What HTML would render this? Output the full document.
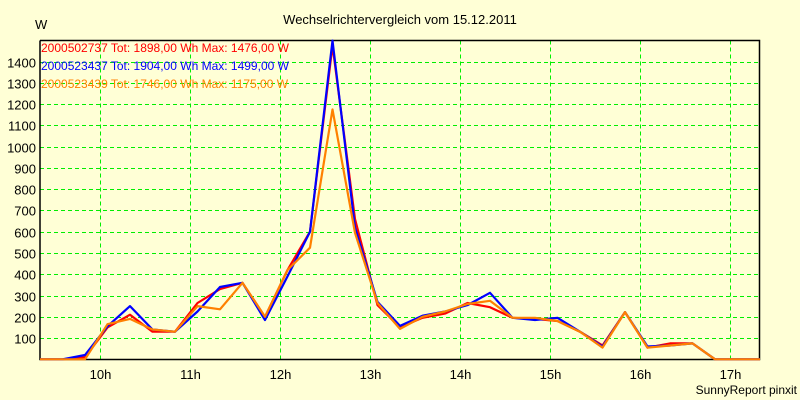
<!DOCTYPE html>
<html><head><meta charset="utf-8"><style>
body{margin:0;background:#ffffd6;}
svg{display:block;font-family:"Liberation Sans",sans-serif;}
</style></head><body>
<svg id="c" width="800" height="400">
<rect x="0" y="0" width="800" height="400" fill="#ffffd6"/>
<text x="400" y="24" font-size="13" text-anchor="middle">Wechselrichtervergleich vom 15.12.2011</text>
<text x="35" y="29" font-size="13">W</text>
<text x="797" y="394" font-size="12" text-anchor="end">SunnyReport pinxit</text>
<g id="grid"></g><g id="axes"></g><g id="series"></g>
<g font-size="12">
<text x="41" y="52" fill="#ff0000">2000502737  Tot: 1898,00 Wh  Max: 1476,00 W</text>
<text x="41" y="70" fill="#0000ff">2000523437  Tot: 1904,00 Wh  Max: 1499,00 W</text>
<text x="41" y="88" fill="#ff8000">2000523439  Tot: 1746,00 Wh  Max: 1175,00 W</text>
</g>
</svg>
<script>
const yTicks=[100,200,300,400,500,600,700,800,900,1000,1100,1200,1300,1400];
const xHours=[10,11,12,13,14,15,16,17];
const startHour=9+20/60, stepHour=0.25;
const red=[0,0,10,150,210,130,130,265,330,360,200,420,600,1476,660,255,150,195,215,265,245,195,190,180,130,65,222,55,75,75,0,0,0];
const blue=[0,0,20,155,250,140,130,225,340,360,185,390,600,1499,620,270,157,205,225,255,313,195,185,195,130,60,222,60,65,75,0,0,0];
const orange=[0,0,0,165,190,140,130,250,235,360,200,420,525,1175,595,265,143,200,225,260,275,195,195,180,130,55,222,55,65,75,0,0,0];
const L=40,R=759.5,T=40.5,B=359.5;
const xS=h=>100+(h-10)*90.0;
const yS=v=>359.3-v*0.2126;
const NS='http://www.w3.org/2000/svg';
function mk(t,a,p){const e=document.createElementNS(NS,t);for(const k in a)e.setAttribute(k,a[k]);p.appendChild(e);return e;}
const grid=document.getElementById('grid'),axes=document.getElementById('axes'),ser=document.getElementById('series');
yTicks.forEach(v=>{const y=Math.round(yS(v))+0.5;
const g=mk('line',{x1:L,x2:R,y1:y,y2:y,stroke:'#00ee00','stroke-dasharray':'4,3'},grid);


const t=mk('text',{x:36,y:y+5,'font-size':13,'text-anchor':'end'},axes);t.textContent=v;

});
xHours.forEach(h=>{const x=Math.round(xS(h))+0.5;
const g=mk('line',{x1:x,x2:x,y1:T,y2:B,stroke:'#00ee00','stroke-dasharray':'4,3'},grid);


const t=mk('text',{x:x,y:379,'font-size':13,'text-anchor':'middle'},axes);t.textContent=h+'h';

});
const fr=mk('polyline',{points:`${L},${T} ${R},${T} ${R},${B} ${L},${B} ${L},${T}`,fill:'none',stroke:'#000','stroke-width':1.5},axes);


[[red,'#ff0000','series-red'],[blue,'#0000ff','series-blue'],[orange,'#ff8000','series-orange']].forEach(([d,c,n])=>{
const pts=d.map((v,i)=>xS(startHour+i*stepHour).toFixed(1)+','+yS(v).toFixed(1)).join(' ');
const p=mk('polyline',{points:pts,fill:'none',stroke:c,'stroke-width':2.2,'stroke-linejoin':'round'},ser);

});
</script>
</body></html>
